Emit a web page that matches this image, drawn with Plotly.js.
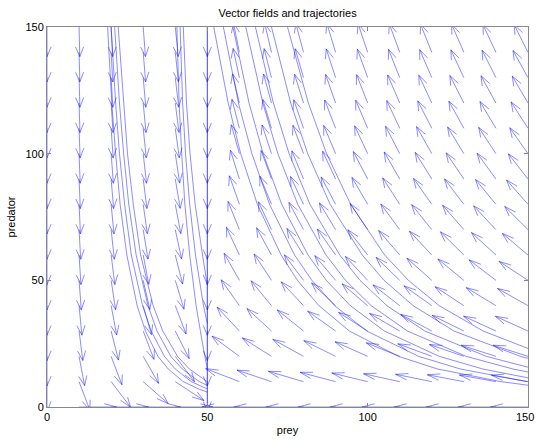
<!DOCTYPE html>
<html>
<head>
<meta charset="utf-8">
<script src="https://cdn.plot.ly/plotly-3.0.1.min.js"></script>
<style>html,body{margin:0;padding:0;background:#fff;}#chart{width:536px;height:439px;}</style>
</head>
<body>
<div id="chart"></div>
<script>
// grid of the direction field
const gridX = [0,10,20,30,40,50,60,70,80,90,100,110,120,130,140,150];
const gridY = [0,10,20,30,40,50,60,70,80,90,100,110,120,130,140,150];
// arrow directions (degrees, data space), one row per predator level
const ang0   = [null,0,0,0,0,-90,180,180,180,180,180,180,180,180,180,180];
const ang10  = [-90,-73.3,-59,-48,-39.8,-90,154,157,159.5,161.5,163,164.5,165.5,166.5,167,167.3];
const ang20  = [-90,-81.5,-73.3,-65.8,-59,-90,137,141.4,145,148,150.6,153,155,156.5,158,158];
const ang30  = [-90,-84.3,-78.7,-73.3,-68.2,-90,126.5,130.8,134.6,138,141,143.6,146,148.1,149.9,150.3];
const ang40  = [-90,-85.7,-81.5,-77.3,-73.3,-90,119.1,123,126.5,129.8,132.8,135.5,138,140.3,142.4,144.4];
const ang50  = [-90,-86.6,-83.2,-79.8,-76.5,-90,114,117.4,120.7,123.7,126.5,129.2,131.6,133.9,136,140.3];
const ang60  = [-90,-87.1,-84.3,-81.5,-78.7,-90,110.3,113.4,116.3,119.1,121.7,124.2,126.5,128.7,130.8,133.1];
const ang70  = [-90,-87.5,-85.1,-82.7,-80.3,-90,107.6,110.3,112.9,115.5,117.9,120.2,122.4,124.5,126.5,128.4];
const ang80  = [-90,-87.9,-85.7,-83.6,-81.5,-90,105.5,108,110.3,112.6,114.8,117,119.1,121,123,124.8];
const ang90  = [-90,-88.1,-86.2,-84.3,-82.4,-90,103.9,106.1,108.2,110.3,112.4,114.4,116.3,118.1,119.9,121.7];
const ang100 = [-90,-88.3,-86.6,-84.9,-83.2,-90,102.5,104.5,106.5,108.4,110.3,112.2,114,115.7,117.4,119.1];
const ang110 = [-90,-88.4,-86.9,-85.3,-83.8,-90,101.4,103.3,105.1,106.9,108.6,110.3,112,113.6,115.2,116.8];
const ang120 = [-90,-88.6,-87.1,-85.7,-84.3,-90,100.5,102.2,103.9,105.5,107.2,108.8,110.3,111.9,113.4,114.8];
const ang130 = [-90,-88.7,-87.4,-86,-84.7,-90,99.7,101.3,102.8,104.4,105.9,107.4,108.9,110.3,111.7,113.5];
const ang140 = [-90,-88.8,-87.5,-86.3,-85.1,-90,99,100.5,101.9,103.4,104.8,106.2,107.6,109,110.3,111.6];
const ang150 = [-90,-88.9,-87.7,-86.6,-85.4,-90,98.4,99.8,101.2,102.5,103.9,105.2,106.5,107.8,109.1,110.3];
const angles = [ang0,ang10,ang20,ang30,ang40,ang50,ang60,ang70,ang80,ang90,ang100,ang110,ang120,ang130,ang140,ang150];

// axis ticks
const tickValues = [0,50,100,150];
const tickLabels = ['0','50','100','150'];

// trajectories (prey, predator)
const trajAx = [18.9,20.2,21.4,22.8,24.9,28.1,30.7,34.6,37.8,42.5,47.5,50];
const trajAy = [150,120,100,80,60,40,30,20,15,10,7,5.9];
const trajBx = [20,21.4,22.6,24.2,26.3,29.8,32.5,36.6,40,45,50];
const trajBy = [150,120,100,80,60,40,30,20,15,10,7.1];
const trajCx = [21.1,22.6,23.9,25.5,27.8,31.5,34.3,38.6,42.2,47.5,50];
const trajCy = [150,120,100,80,60,40,30,20,15,10,8.5];
const trajDx = [22.2,23.8,25.1,26.9,29.2,33.1,36.1,40.7,44.4,50];
const trajDy = [150,120,100,80,60,40,30,20,15,10];
const trajEx = [40.5,41.2,42,43,44.5,46.5,48.5,50];
const trajEy = [150,120,100,80,60,40,25,15];
const trajFx = [41.5,42.3,43.2,44.5,46.3,48.8,50];
const trajFy = [150,120,100,80,60,40,33];
const trajOx = [42.5,43.5,44.6,46.2,48.5,50];
const trajOy = [150,120,100,80,60,48];
const trajGx = [50,50];
const trajGy = [150,0];
const trajHx = [52,56.5,60.4,65.6,73,78.1,84.8,94.3,109.6,121.8,141.6,150];
const trajHy = [150,120,100,80,60,50,40,30,20,15,10,8.6];
const trajIx = [55,59.7,63.9,69.4,77.2,82.6,89.7,99.7,115.9,128.9,149.8];
const trajIy = [150,120,100,80,60,50,40,30,20,15,10];
const trajJx = [58,63,67.4,73.2,81.4,87.1,94.6,105.2,122.3,135.9,150];
const trajJy = [150,120,100,80,60,50,40,30,20,15,11.5];
const trajKx = [62,67.3,72,78.2,87,93.1,101.1,112.4,130.7,145.3,150];
const trajKy = [150,120,100,80,60,50,40,30,20,15,13.8];
const trajLx = [65,70.6,75.5,82,91.3,97.6,106,117.8,137,150];
const trajLy = [150,120,100,80,60,50,40,30,20,15.7];
const trajMx = [70,76,81.3,88.3,98.3,105.1,114.2,126.9,147.6,150];
const trajMy = [150,120,100,80,60,50,40,30,20,19.2];
const trajNx = [75,81.5,87.2,94.7,105.3,112.7,122.3,136,150];
const trajNy = [150,120,100,80,60,50,40,30,23.1];
const trajsX = [trajAx,trajBx,trajCx,trajDx,trajEx,trajFx,trajOx,trajGx,trajHx,trajIx,trajJx,trajKx,trajLx,trajMx,trajNx];
const trajsY = [trajAy,trajBy,trajCy,trajDy,trajEy,trajFy,trajOy,trajGy,trajHy,trajIy,trajJy,trajKy,trajLy,trajMy,trajNy];

const arrowLen = 11.7;
const headA = 0.33, headB = 0.33;
const qx = [], qy = [];
angles.forEach((row, j) => {
  row.forEach((a, i) => {
    if (a === null) return;
    const x = gridX[i], y = gridY[j];
    const u = arrowLen * Math.cos(a * Math.PI / 180);
    const v = arrowLen * Math.sin(a * Math.PI / 180);
    const tx = x + u, ty = y + v;
    qx.push(x, tx, null);
    qy.push(y, ty, null);
    qx.push(tx - headA * (u + headB * v), tx, tx - headA * (u - headB * v), null);
    qy.push(ty - headA * (v - headB * u), ty, ty - headA * (v + headB * u), null);
  });
});
const tx = [], ty = [];
trajsX.forEach((xs, k) => { xs.forEach((x, n) => { tx.push(x); ty.push(trajsY[k][n]); }); tx.push(null); ty.push(null); });

const lineColor = 'rgba(20,20,255,0.55)';
const data = [
  {type:'scatter', mode:'lines', x:qx, y:qy, line:{color:lineColor, width:0.9}, hoverinfo:'skip', connectgaps:false},
  {type:'scatter', mode:'lines', x:tx, y:ty, line:{color:lineColor, width:0.9}, hoverinfo:'skip', connectgaps:false}
];
const fontFam = 'Liberation Sans, Arial, Helvetica, sans-serif';
const lastIdx = tickValues.length - 1;
const layout = {
  width:536, height:439,
  margin:{l:47, r:8, t:27, b:32},
  paper_bgcolor:'#fff', plot_bgcolor:'#fff',
  showlegend:false,
  font:{family:fontFam, size:11, color:'#000'},
  title:{text:'Vector fields and trajectories', x:0.5365, xanchor:'center', y:0.97, yanchor:'middle', font:{family:fontFam, size:11, color:'#000'}},
  xaxis:{range:[0,150], tickvals:tickValues, ticktext:tickLabels.map((t, i) => i === lastIdx ? '' : t),
    ticks:'inside', ticklen:4, tickcolor:'#888',
    showline:true, linecolor:'#888', linewidth:1, mirror:'ticks', showgrid:false, zeroline:false,
    tickfont:{family:fontFam, size:11, color:'#000'},
    title:{text:'prey', standoff:4, font:{family:fontFam, size:11}}},
  yaxis:{range:[0,150], tickvals:tickValues, ticktext:tickLabels,
    ticks:'inside', ticklen:4, tickcolor:'#888',
    showline:true, linecolor:'#888', linewidth:1, mirror:'ticks', showgrid:false, zeroline:false,
    tickfont:{family:fontFam, size:11, color:'#000'},
    title:{text:'predator', standoff:7, font:{family:fontFam, size:11}}},
  annotations:[{text:tickLabels[lastIdx], xref:'paper', yref:'paper', x:1.0166, xanchor:'right', y:0, yanchor:'top', yshift:-2,
    showarrow:false, font:{family:fontFam, size:11, color:'#000'}}]
};
Plotly.newPlot('chart', data, layout, {staticPlot:true, displayModeBar:false});
</script>
</body>
</html>
